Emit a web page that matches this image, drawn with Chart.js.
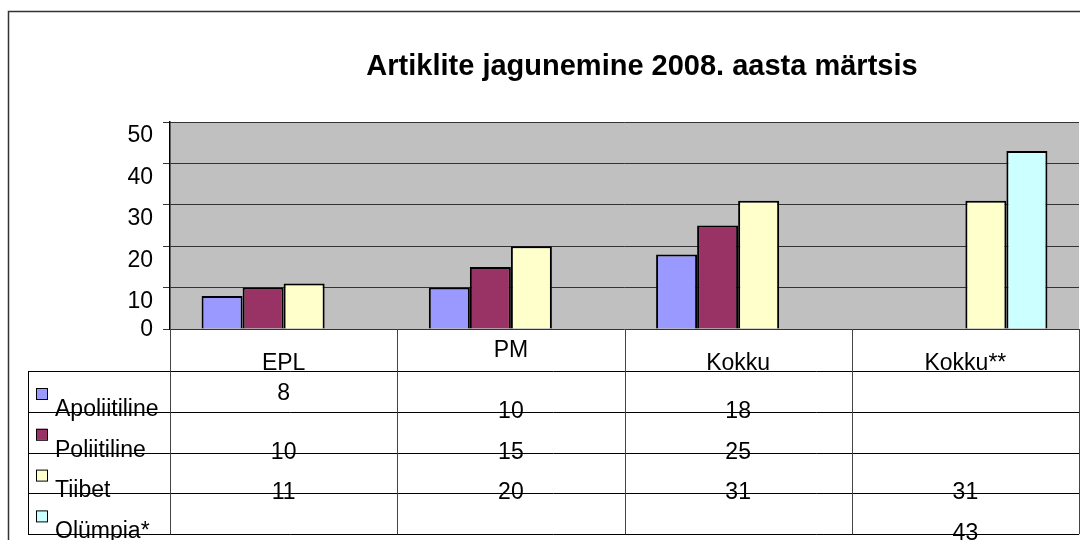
<!DOCTYPE html>
<html>
<head>
<meta charset="utf-8">
<script src="https://cdn.jsdelivr.net/npm/chart.js@4/dist/chart.umd.min.js"></script>
<style>
  html, body { margin: 0; padding: 0; background: #fff; }
  canvas { display: block; }
</style>
</head>
<body>
<canvas id="chart" width="1080" height="540"></canvas>
<script>
const title = 'Artiklite jagunemine 2008. aasta märtsis';
const categories = ['EPL', 'PM', 'Kokku', 'Kokku**'];
const apoliitiline = [8, 10, 18, null];
const poliitiline = [10, 15, 25, null];
const tiibet = [11, 20, 31, 31];
const olumpia = [null, null, null, 43];
const yTicks = [0, 10, 20, 30, 40, 50];

const seriesNames = ['Apoliitiline', 'Poliitiline', 'Tiibet', 'Olümpia*'];
const seriesColors = ['#9999FF', '#993366', '#FFFFCC', '#CCFFFF'];
const seriesData = [apoliitiline, poliitiline, tiibet, olumpia];

const FONT = '"Liberation Sans", Arial, sans-serif';

// draws the Excel style frame, plot background, y labels, title and data table
const excelLook = {
  id: 'excelLook',
  beforeDraw(chart) {
    const ctx = chart.ctx;
    const a = chart.chartArea;
    ctx.save();
    ctx.fillStyle = '#fff';
    ctx.fillRect(0, 0, chart.width, chart.height);
    ctx.strokeStyle = '#333';
    ctx.lineWidth = 1.5;
    ctx.beginPath();
    ctx.moveTo(8.5, chart.height);
    ctx.lineTo(8.5, 11.5);
    ctx.lineTo(chart.width, 11.5);
    ctx.stroke();
    ctx.fillStyle = '#C0C0C0';
    ctx.fillRect(a.left, a.top, a.right - a.left, a.bottom - a.top);
    ctx.restore();
  },
  afterDraw(chart) {
    const ctx = chart.ctx;
    const a = chart.chartArea;
    const xs = chart.scales.x;
    const ys = chart.scales.y;
    ctx.save();

    // title
    ctx.fillStyle = '#000';
    ctx.font = 'bold 29px ' + FONT;
    ctx.textAlign = 'center';
    ctx.textBaseline = 'alphabetic';
    ctx.fillText(title, 642, 75);

    // y tick labels (Excel drops them a bit below the tick)
    ctx.font = '23px ' + FONT;
    ctx.textAlign = 'right';
    ctx.textBaseline = 'middle';
    yTicks.forEach(v => {
      const y = ys.getPixelForValue(v) + (v === 0 ? 1 : 14);
      ctx.fillText(String(v), 153, y);
    });

    // data table
    const colW = (a.right - a.left) / categories.length;
    const tableLeft = 28;
    const rowTop = a.bottom + 42;
    const rowH = 40.8;
    const tableBottom = rowTop + rowH * seriesNames.length;

    ctx.font = '23px ' + FONT;
    ctx.textAlign = 'center';
    ctx.textBaseline = 'alphabetic';
    categories.forEach((c, i) => {
      const cx = xs.getPixelForValue(i);
      ctx.fillText(c, cx, i === 1 ? rowTop - 14 : rowTop - 1);
    });

    seriesNames.forEach((name, r) => {
      const top = rowTop + r * rowH;
      const bottom = top + rowH;
      ctx.fillStyle = seriesColors[r];
      ctx.fillRect(36, top + 17, 11, 11);
      ctx.strokeStyle = '#000';
      ctx.lineWidth = 1;
      ctx.strokeRect(36.5, top + 17.5, 11, 11);
      ctx.fillStyle = '#000';
      ctx.textAlign = 'left';
      ctx.fillText(name, 55, bottom + 4);
      ctx.textAlign = 'center';
      seriesData[r].forEach((v, i) => {
        if (v === null) return;
        const cx = xs.getPixelForValue(i);
        const raised = (r === 0 && i === 0);
        ctx.fillText(String(v), cx, raised ? top + 29 : bottom + 6);
      });
    });

    // table grid
    ctx.strokeStyle = '#000';
    ctx.lineWidth = 1;
    ctx.beginPath();
    for (let r = 0; r <= seriesNames.length; r++) {
      const y = Math.round(rowTop + r * rowH) + 0.5;
      ctx.moveTo(tableLeft, y);
      ctx.lineTo(a.right, y);
    }
    ctx.moveTo(tableLeft + 0.5, rowTop);
    ctx.lineTo(tableLeft + 0.5, tableBottom);
    ctx.stroke();
    ctx.strokeStyle = '#444';
    ctx.beginPath();
    for (let i = 0; i <= categories.length; i++) {
      const x = Math.round(a.left + i * colW) + 0.5;
      ctx.moveTo(x, a.bottom);
      ctx.lineTo(x, tableBottom);
    }
    ctx.stroke();
    ctx.restore();
  }
};

new Chart(document.getElementById('chart'), {
  type: 'bar',
  data: {
    labels: categories,
    datasets: seriesNames.map((name, i) => ({
      label: name,
      data: seriesData[i],
      backgroundColor: seriesColors[i],
      borderColor: '#000',
      borderWidth: 2,
      categoryPercentage: 0.722,
      barPercentage: 1
    }))
  },
  options: {
    responsive: false,
    animation: false,
    layout: { padding: { left: 0, right: 1, top: 122, bottom: 211 } },
    plugins: {
      legend: { display: false },
      title: { display: false },
      tooltip: { enabled: false }
    },
    scales: {
      x: { display: false },
      y: {
        min: 0,
        max: 50,
        afterFit: s => { s.width = 170; },
        ticks: { display: false, stepSize: 10 },
        grid: { color: '#333', lineWidth: 1, drawTicks: true, tickLength: 7 },
        border: { display: true, color: '#000', width: 1.5 }
      }
    }
  },
  plugins: [excelLook]
});
</script>
</body>
</html>
